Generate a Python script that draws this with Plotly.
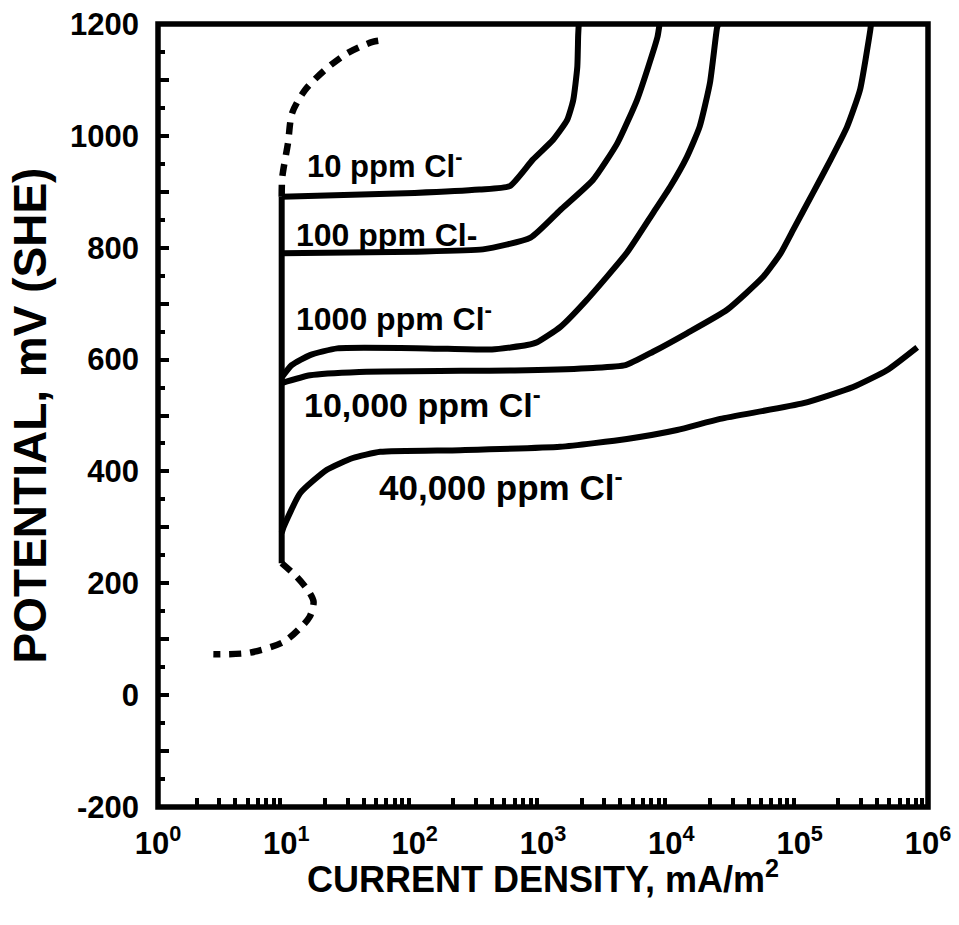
import math
import plotly.graph_objects as go

# ---- data (current density mA/m^2, potential mV SHE) ----
vert_x = [9.2, 9.2]
vert_y = [236, 891]

ppm10_x = [9.2, 100, 320, 550, 830, 1200, 1540, 1720, 1850, 1880, 1900]
ppm10_y = [891, 898, 904, 910, 957, 993, 1028, 1064, 1123, 1180, 1200]

ppm100_x = [9.2, 100, 340, 800, 1360, 2450, 3800, 5400, 6600, 7800, 8100]
ppm100_y = [790, 793, 797, 818, 867, 921, 987, 1064, 1123, 1177, 1200]

ppm1000_x = [9.2, 11, 15.3, 25, 125, 400, 750, 900, 1360, 2200, 4500, 7200, 9800,
             13200, 16600, 20000, 22700, 23200]
ppm1000_y = [568, 590, 608, 620, 620, 618, 626, 631, 658, 707, 791, 862, 909,
             962, 1016, 1095, 1193, 1200]

ppm10000_x = [9.2, 15.3, 37, 750, 2450, 4400, 7200, 13200, 27200, 52000, 71000, 89000,
              127000, 174000, 234000, 295000, 355000, 360000]
ppm10000_y = [558, 572, 578, 581, 585, 590, 614, 647, 689, 748, 790, 832,
              898, 957, 1016, 1082, 1189, 1200]

ppm40000_x = [9.2, 9.5, 12.8, 20.7, 33, 54, 226, 1360, 4500, 11100, 24000, 107000,
              261000, 479000, 824000]
ppm40000_y = [290, 300, 361, 403, 424, 435, 438, 444, 458, 474, 494, 522,
              551, 581, 622]

dash_top_x = [9.2, 9.3, 10.3, 11.1, 14, 20, 30, 47, 56]
dash_top_y = [891, 926, 987, 1041, 1082, 1118, 1148, 1168, 1171]

dash_bot_x = [9.2, 12.1, 15.0, 16.3, 15.2, 12.8, 9.5, 5.2, 3.2, 2.7]
dash_bot_y = [236, 211, 185, 167, 140, 120, 95, 76, 73, 73]

labels = ["10 ppm Cl<sup>-</sup>", "100 ppm Cl-", "1000 ppm Cl<sup>-</sup>",
          "10,000 ppm Cl<sup>-</sup>", "40,000 ppm Cl<sup>-</sup>"]
label_x = [14, 11.5, 11.5, 13.2, 51]
label_y = [950, 823, 677, 524, 375]
label_size = [31, 32, 32, 34, 35]

x_tick_vals = [1, 10, 100, 1000, 10000, 100000, 1000000]
x_tick_text = ["10<sup>0</sup>", "10<sup>1</sup>", "10<sup>2</sup>", "10<sup>3</sup>",
               "10<sup>4</sup>", "10<sup>5</sup>", "10<sup>6</sup>"]
y_tick_vals = list(range(-200, 1201, 100))
y_tick_text = [str(v) if v % 200 == 0 else "" for v in y_tick_vals]

x_title = "CURRENT DENSITY, mA/m<sup>2</sup>"
y_title = "POTENTIAL, mV (SHE)"

FONT = "Liberation Sans, Arial, sans-serif"
LW = 6

fig = go.Figure()
solid = dict(color="black", width=LW)
for xs, ys, nm in [(vert_x, vert_y, "passive"), (ppm10_x, ppm10_y, "10 ppm"),
                   (ppm100_x, ppm100_y, "100 ppm"), (ppm1000_x, ppm1000_y, "1000 ppm"),
                   (ppm10000_x, ppm10000_y, "10,000 ppm"), (ppm40000_x, ppm40000_y, "40,000 ppm")]:
    fig.add_trace(go.Scatter(x=xs, y=ys, mode="lines", name=nm, line=solid,
                             line_shape="spline", line_smoothing=0.5))
for xs, ys in [(dash_top_x, dash_top_y), (dash_bot_x, dash_bot_y)]:
    fig.add_trace(go.Scatter(x=xs, y=ys, mode="lines",
                             line=dict(color="black", width=6.5, dash="12px,9px"),
                             line_shape="spline", line_smoothing=0.8))

for t, xv, yv, sz in zip(labels, label_x, label_y, label_size):
    fig.add_annotation(x=math.log10(xv), y=yv, text=t, showarrow=False,
                       xanchor="left", yanchor="middle",
                       font=dict(family=FONT, size=sz, color="black", weight="bold"))

# x axis title placed as an annotation under the tick labels
fig.add_annotation(x=0.5, y=-0.089, xref="paper", yref="paper", text=x_title,
                   showarrow=False, xanchor="center", yanchor="middle",
                   font=dict(family=FONT, size=36, color="black", weight="bold"))

# plot frame
fig.add_shape(type="rect", xref="paper", yref="paper", x0=0, x1=1, y0=0, y1=1,
              line=dict(color="black", width=5.5), layer="above")

minor_x = [m * 10 ** d for d in range(6) for m in range(2, 10)]

fig.update_layout(
    width=959, height=925,
    margin=dict(l=158, r=31, t=24, b=118),
    paper_bgcolor="white", plot_bgcolor="white",
    showlegend=False,
    font=dict(family=FONT, size=30, color="black", weight="bold"),
    xaxis=dict(type="log", range=[0, 6], showgrid=False, zeroline=False, automargin=False,
               showline=False,
               tickmode="array", tickvals=x_tick_vals, ticktext=x_tick_text,
               ticks="", ticklen=0, ticklabelstandoff=15, ticklabeloverflow="allow",
               minor=dict(tickmode="array", tickvals=minor_x, ticks="inside",
                          ticklen=9, tickwidth=4, tickcolor="black", showgrid=False),
               tickfont=dict(family=FONT, size=31, color="black", weight="bold")),
    yaxis=dict(range=[-200, 1200], showgrid=False, zeroline=False, automargin=False,
               showline=False,
               tickmode="array", tickvals=y_tick_vals, ticktext=y_tick_text,
               ticks="inside", ticklen=11, tickwidth=4, tickcolor="black",
               ticklabelstandoff=18, ticklabeloverflow="allow",
               minor=dict(dtick=50, ticks="inside", ticklen=7, tickwidth=4,
                          tickcolor="black", showgrid=False),
               tickfont=dict(family=FONT, size=31, color="black", weight="bold"),
               title=dict(text=y_title, standoff=8,
                          font=dict(family=FONT, size=46, color="black", weight="bold"))),
)

fig.write_html("out.html", config={"displayModeBar": False},
               post_script="document.body.style.margin='0';")
